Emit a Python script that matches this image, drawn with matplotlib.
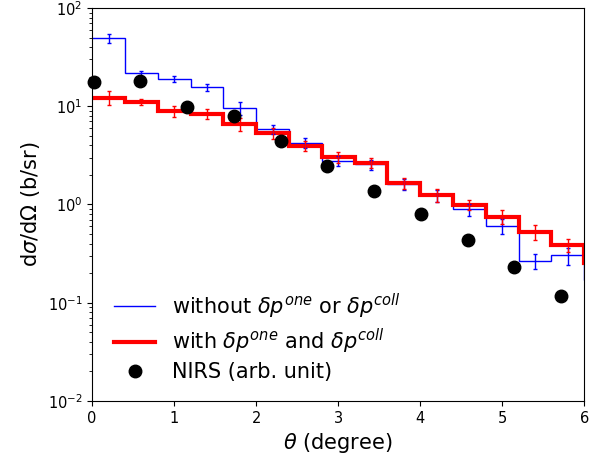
import numpy as np
import matplotlib
matplotlib.use("Agg")
import matplotlib.pyplot as plt

# bin edges in theta (degree); the last bin lies past the axis limit
edges = np.arange(0, 6.41, 0.4)
centers = 0.5 * (edges[:-1] + edges[1:])

# without dp_one / dp_coll (blue)
blue_vals = [49.5, 21.8, 18.9, 15.6, 9.6, 5.86, 4.25, 2.79, 2.57, 1.62, 1.24, 0.89, 0.61, 0.268, 0.304, 0.17]
blue_err = [5.5, 1.3, 1.4, 1.2, 1.4, 0.6, 0.45, 0.35, 0.3, 0.2, 0.18, 0.13, 0.11, 0.045, 0.06, 0.03]

# with dp_one and dp_coll (red)
red_vals = [12.2, 11.1, 8.96, 8.4, 6.6, 5.3, 3.94, 3.02, 2.66, 1.64, 1.25, 0.99, 0.75, 0.53, 0.387, 0.254]
red_err = [2.0, 0.7, 1.2, 0.9, 1.0, 0.65, 0.45, 0.4, 0.3, 0.2, 0.19, 0.12, 0.12, 0.09, 0.055, 0.04]

# NIRS points (arb. unit)
nirs_theta = [0.02, 0.59, 1.16, 1.73, 2.30, 2.87, 3.44, 4.01, 4.58, 5.15, 5.72]
nirs_vals = [17.8, 18.1, 9.75, 7.96, 4.43, 2.47, 1.37, 0.80, 0.432, 0.23, 0.117]

fig = plt.figure(figsize=(6.06, 4.58), dpi=100)
ax = fig.add_axes([0.152, 0.1245, 0.812, 0.858])

ax.stairs(blue_vals, edges, baseline=None, color="blue", lw=1.0,
          label=r"without $\delta p^{one}$ or $\delta p^{coll}$")
ax.errorbar(centers, blue_vals, yerr=blue_err, fmt="none", ecolor="blue",
            elinewidth=1.0, capsize=1.5)
ax.stairs(red_vals, edges, baseline=None, color="red", lw=3.0,
          label=r"with $\delta p^{one}$ and $\delta p^{coll}$")
ax.errorbar(centers, red_vals, yerr=red_err, fmt="none", ecolor="red",
            elinewidth=1.0, capsize=1.5)
ax.plot(nirs_theta, nirs_vals, "o", color="black", ms=9, clip_on=False,
        label="NIRS (arb. unit)")

ax.set_yscale("log")
ax.set_xlim(0, 6)
ax.set_ylim(1e-2, 1e2)
ax.set_xticks(range(7))
ax.tick_params(labelsize=10.5)
ax.set_xlabel(r"$\theta$ (degree)", fontsize=15)
ax.set_ylabel(r"d$\sigma$/d$\Omega$ (b/sr)", fontsize=15)

ax.legend(loc="lower left", frameon=False, fontsize=15, labelspacing=0.3,
          bbox_to_anchor=(0.006, 0.0))

fig.savefig("out.png", dpi=100)
